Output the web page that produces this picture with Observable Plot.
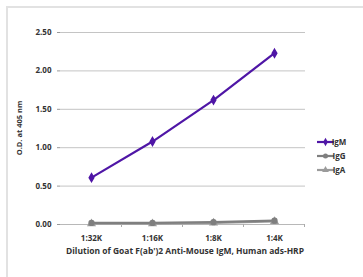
<!DOCTYPE html>
<html><head><meta charset="utf-8">
<script src="https://cdn.jsdelivr.net/npm/d3@7"></script>
<script src="https://cdn.jsdelivr.net/npm/@observablehq/plot@0.6"></script>
<style>
html,body{margin:0;padding:0;background:#fff;}
#wrap{position:absolute;left:0;top:0;width:363px;height:277px;overflow:hidden;}
#frame{position:absolute;left:6px;top:6px;width:400px;height:300px;border-left:2px solid #e2e2e2;border-top:2px solid #e2e2e2;}
svg text{font-family:"Open Sans",sans-serif;}
</style></head>
<body><div id="wrap"><div id="frame"></div><div id="chart" style="position:absolute;left:0;top:0"></div></div>
<script>
const dilutions = ["1:32K", "1:16K", "1:8K", "1:4K"];
const igm = [0.61, 1.08, 1.62, 2.23];
const igg = [0.02, 0.02, 0.03, 0.05];
const iga = [0.01, 0.01, 0.02, 0.04];
const seriesNames = ["IgM", "IgG", "IgA"];
const seriesColors = ["#4f16a6", "#7f7f7f", "#9b9b9b"];
const seriesSymbols = ["diamond", "circle", "triangle"];
const yTicks = [0, 0.5, 1, 1.5, 2, 2.5];

const seriesValues = [igm, igg, iga];
const rows = [];
seriesNames.forEach((s, si) => dilutions.forEach((d, i) => rows.push({series: s, dilution: d, od: seriesValues[si][i]})));
const order = ["IgA", "IgG", "IgM"];
const drawRows = order.flatMap(s => rows.filter(r => r.series === s));

const font = "'Open Sans', sans-serif";
const plot = Plot.plot({
  width: 363, height: 277,
  marginLeft: 60, marginRight: 58, marginTop: 32, marginBottom: 53,
  style: {fontFamily: font, fontSize: "8px", fontWeight: "bold", color: "#333", background: "transparent", overflow: "visible"},
  x: {type: "point", domain: dilutions, padding: 0.5, label: null},
  y: {domain: [0, 2.5], label: null},
  color: {domain: seriesNames, range: seriesColors},
  symbol: {domain: seriesNames, range: seriesSymbols},
  marks: [
    Plot.ruleY(yTicks.filter(t => t > 0), {stroke: "#c4c4c4", strokeWidth: 1}),
    Plot.ruleY([0], {stroke: "#b8b8b8", strokeWidth: 1}),
    Plot.ruleX([0], {frameAnchor: "left", stroke: "#b8b8b8", strokeWidth: 1}),
    Plot.axisY({ticks: yTicks, tickFormat: d3.format(".2f"), tickSize: 3, tickPadding: 6, stroke: "#999", fill: "#333", label: null}),
    Plot.axisX({tickSize: 0, tickPadding: 11, fill: "#333", label: null}),
    Plot.lineY(drawRows, {x: "dilution", y: "od", z: "series", stroke: "series", strokeWidth: 2.2}),
    Plot.dot(drawRows, {x: "dilution", y: "od", symbol: "series", fill: "series", stroke: "series", r: 2.4})
  ]
});
document.getElementById("chart").appendChild(plot);

const svg = d3.select(plot);
const xs = plot.scale("x");
const ys = plot.scale("y");
// boundary ticks on x axis
const step = (xs.apply(dilutions[1]) - xs.apply(dilutions[0]));
const y0 = ys.apply(0);
dilutions.forEach((d, i) => {
  const bx = xs.apply(d) + step / 2;
  svg.append("line").attr("x1", bx).attr("x2", bx).attr("y1", y0).attr("y2", y0 + 3).attr("stroke", "#aaa");
});

// axis titles
svg.append("text").attr("x", 185).attr("y", 254).attr("text-anchor", "middle")
  .attr("font-family", font).attr("font-weight", "bold").attr("font-size", "8px").attr("fill", "#333")
  .attr("textLength", 238).attr("lengthAdjust", "spacingAndGlyphs")
  .text("Dilution of Goat F(ab')2 Anti-Mouse IgM, Human ads-HRP");
svg.append("text").attr("transform", "translate(22,128) rotate(-90)").attr("text-anchor", "middle")
  .attr("font-family", font).attr("font-weight", "bold").attr("font-size", "7.5px").attr("fill", "#333")
  .text("O.D. at 405 nm");

// legend
const sym = d3.scaleOrdinal(seriesNames, [d3.symbolDiamond, d3.symbolCircle, d3.symbolTriangle]);
seriesNames.forEach((s, i) => {
  const ly = 142 + i * 14;
  const g = svg.append("g");
  g.append("line").attr("x1", 317).attr("x2", 334).attr("y1", ly).attr("y2", ly).attr("stroke", seriesColors[i]).attr("stroke-width", 2.2);
  g.append("path").attr("d", d3.symbol(sym(s), 20)()).attr("transform", `translate(325.5,${ly})`).attr("fill", seriesColors[i]);
  g.append("text").attr("x", 339).attr("y", ly).attr("dy", "0.35em").attr("font-family", font).attr("font-weight", "bold")
    .attr("font-size", "8px").attr("fill", "#333").text(s);
});
</script></body></html>
